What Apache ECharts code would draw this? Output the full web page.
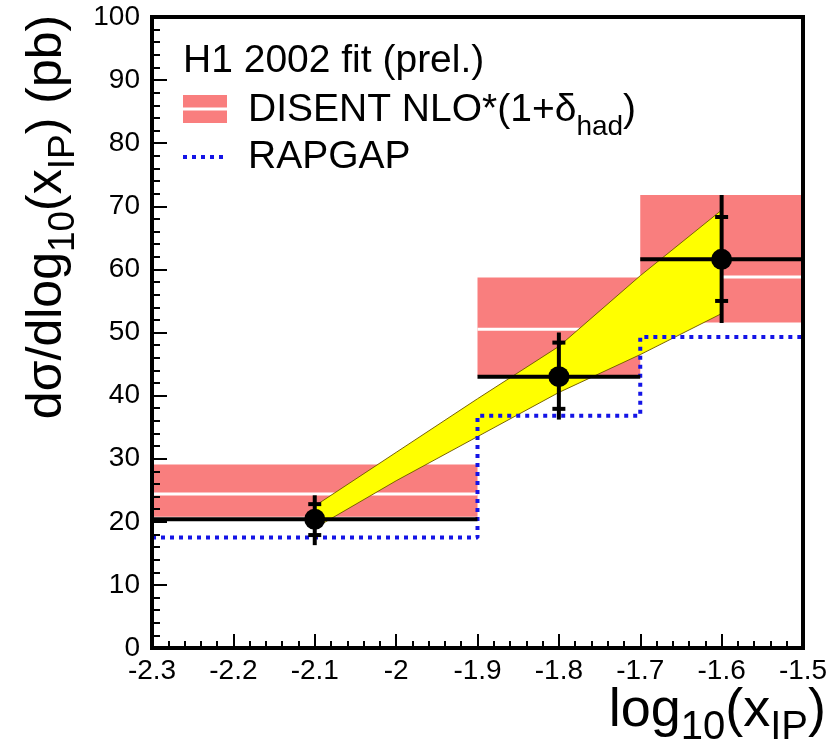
<!DOCTYPE html>
<html>
<head>
<meta charset="utf-8">
<script src="https://cdn.jsdelivr.net/npm/echarts/dist/echarts.min.js"></script>
<style>
  html, body { margin: 0; padding: 0; background: #fff; }
  #chart { width: 839px; height: 750px; }
</style>
</head>
<body>
<div id="chart"></div>
<script>
var FONT = '"Liberation Sans", Arial, Helvetica, sans-serif';
var PINK = '#f97e7e';
var BLUE = '#1414e6';

// bins in log10(x_IP)
var binLo = [-2.3, -1.9, -1.7];
var binHi = [-1.9, -1.7, -1.5];
var binCenter = [-2.1, -1.8, -1.6];

// H1 data (pb), inner = stat, outer = total error
var dataVal = [20.4, 43.0, 61.6];
var statLo = [17.9, 37.9, 55.0];
var statHi = [22.8, 48.4, 68.3];
var totLo = [16.3, 36.2, 51.5];
var totHi = [24.2, 50.0, 71.8];

// DISENT NLO*(1+delta_had) band
var disentLo = [20.8, 43.2, 51.6];
var disentHi = [29.1, 58.7, 71.8];
var disentMid = [24.4, 50.5, 58.8];

// RAPGAP
var rapgap = [17.5, 36.8, 49.3];

// H1 2002 fit band
var fitX = [-2.1, -2.0, -1.9, -1.8, -1.7, -1.6];
var fitUp = [22.5, 31.0, 39.5, 47.8, 59.0, 69.4];
var fitLo = [19.0, 26.5, 33.5, 40.5, 46.5, 53.0];

// axes
var xRange = [-2.3, -1.5];
var xStep = 0.1;
var yRange = [0, 100];
var yStep = 10;

var myChart = echarts.init(document.getElementById('chart'));

function renderDisent(params, api) {
  var a = api.coord([api.value(0), api.value(3)]);
  var b = api.coord([api.value(1), api.value(2)]);
  var m = api.coord([api.value(0), api.value(4)]);
  return {
    type: 'group',
    children: [
      { type: 'rect', shape: { x: a[0], y: a[1], width: b[0] - a[0], height: b[1] - a[1] }, style: { fill: PINK } },
      { type: 'line', shape: { x1: a[0], y1: m[1], x2: b[0], y2: m[1] }, style: { stroke: '#fff', lineWidth: 3 } }
    ]
  };
}

function renderFit(params, api) {
  if (params.dataIndex !== 0) return;
  var up = [], lo = [];
  for (var i = 0; i < fitX.length; i++) {
    up.push(api.coord([fitX[i], fitUp[i]]));
    lo.push(api.coord([fitX[i], fitLo[i]]));
  }
  var pts = up.concat(lo.slice().reverse());
  return {
    type: 'group',
    children: [
      { type: 'polygon', shape: { points: pts }, style: { fill: '#ffff00' } },
      { type: 'polyline', shape: { points: up }, style: { stroke: '#7a6400', lineWidth: 1, fill: null } },
      { type: 'polyline', shape: { points: lo }, style: { stroke: '#7a6400', lineWidth: 1, fill: null } }
    ]
  };
}

function renderPoint(params, api) {
  var c = api.coord([api.value(0), api.value(1)]);
  var l = api.coord([api.value(2), api.value(1)]);
  var r = api.coord([api.value(3), api.value(1)]);
  var s0 = api.coord([api.value(0), api.value(4)]);
  var s1 = api.coord([api.value(0), api.value(5)]);
  var t0 = api.coord([api.value(0), api.value(6)]);
  var t1 = api.coord([api.value(0), api.value(7)]);
  var st = { stroke: '#000', lineWidth: 4 };
  var cap = 6.5;
  return {
    type: 'group',
    children: [
      { type: 'line', shape: { x1: l[0], y1: c[1], x2: r[0], y2: c[1] }, style: st },
      { type: 'line', shape: { x1: c[0], y1: t0[1], x2: c[0], y2: t1[1] }, style: st },
      { type: 'line', shape: { x1: c[0] - cap, y1: s0[1], x2: c[0] + cap, y2: s0[1] }, style: st },
      { type: 'line', shape: { x1: c[0] - cap, y1: s1[1], x2: c[0] + cap, y2: s1[1] }, style: st },
      { type: 'circle', shape: { cx: c[0], cy: c[1], r: 10.5 }, style: { fill: '#000' } }
    ]
  };
}

var disentData = binLo.map(function (x, i) {
  return [binLo[i], binHi[i], disentLo[i], disentHi[i], disentMid[i]];
});
var pointData = binCenter.map(function (x, i) {
  return [binCenter[i], dataVal[i], binLo[i], binHi[i], statLo[i], statHi[i], totLo[i], totHi[i]];
});
var rapData = binLo.map(function (x, i) { return [x, rapgap[i]]; });
rapData.push([binHi[binHi.length - 1], rapgap[rapgap.length - 1]]);
var fitData = fitX.map(function (x, i) { return [x, fitLo[i], fitUp[i]]; });

var tickLabel = { color: '#000', fontSize: 28, fontFamily: FONT };

function subRich(main, sub, pad) {
  return {
    m: { fontSize: main, fontFamily: FONT, fill: '#000', color: '#000', verticalAlign: 'top' },
    s: { fontSize: sub, fontFamily: FONT, fill: '#000', color: '#000', verticalAlign: 'top', padding: [pad, 0, 0, 0] }
  };
}

var option = {
  animation: false,
  backgroundColor: '#fff',
  grid: {
    left: 152, right: 36, top: 17, bottom: 102,
    show: true, borderColor: '#000', borderWidth: 4, backgroundColor: 'transparent', z: 10
  },
  xAxis: {
    type: 'value',
    min: xRange[0], max: xRange[1], interval: xStep,
    z: 10,
    axisLine: { lineStyle: { color: '#000', width: 4 } },
    axisTick: { inside: true, length: 14, lineStyle: { color: '#000', width: 2 } },
    minorTick: { show: true, splitNumber: 5, length: 7, lineStyle: { color: '#000', width: 2 } },
    splitLine: { show: false },
    axisLabel: Object.assign({ margin: 9 }, tickLabel)
  },
  yAxis: {
    type: 'value',
    min: yRange[0], max: yRange[1], interval: yStep,
    z: 10,
    axisLine: { lineStyle: { color: '#000', width: 4 } },
    axisTick: { inside: true, length: 15, lineStyle: { color: '#000', width: 2 } },
    minorTick: { show: true, splitNumber: 5, length: 8, lineStyle: { color: '#000', width: 2 } },
    splitLine: { show: false },
    axisLabel: Object.assign({ margin: 12 }, tickLabel)
  },
  series: [
    { name: 'DISENT', type: 'custom', z: 1, renderItem: renderDisent, data: disentData, silent: true },
    { name: 'fit', type: 'custom', z: 2, renderItem: renderFit, data: fitData, silent: true },
    {
      name: 'RAPGAP', type: 'line', z: 3, step: 'end', data: rapData, symbol: 'none',
      lineStyle: { color: BLUE, width: 4, type: [4, 5], cap: 'butt' }, silent: true
    },
    { name: 'H1', type: 'custom', z: 4, renderItem: renderPoint, data: pointData, silent: true }
  ],
  graphic: [
    // legend
    {
      type: 'text', x: 183, y: 42,
      style: { text: 'H1 2002 fit (prel.)', font: '39px ' + FONT, fill: '#000', verticalAlign: 'top' }
    },
    { type: 'rect', shape: { x: 183, y: 95, width: 44, height: 28 }, style: { fill: PINK } },
    { type: 'rect', shape: { x: 183, y: 107.5, width: 44, height: 3 }, style: { fill: '#fff' } },
    {
      type: 'text', x: 248, y: 91,
      style: {
        text: '{m|DISENT NLO*(1+δ}{s|had}{m|)}',
        rich: subRich(39, 28, 22), verticalAlign: 'top', fill: '#000'
      }
    },
    {
      type: 'line', shape: { x1: 183, y1: 157, x2: 228, y2: 157 },
      style: { stroke: BLUE, lineWidth: 4, lineDash: [4, 5] }
    },
    {
      type: 'text', x: 248, y: 138,
      style: { text: 'RAPGAP', font: '39px ' + FONT, fill: '#000', verticalAlign: 'top' }
    },
    // axis titles
    {
      type: 'text', x: 826, y: 684,
      style: {
        text: '{m|log}{s|10}{m|(x}{s|IP}{m|)}',
        rich: subRich(54, 40, 24), align: 'right', verticalAlign: 'top', fill: '#000'
      }
    },
    {
      type: 'text', x: 22, y: 217, rotation: Math.PI / 2,
      style: {
        text: '{m|dσ/dlog}{s|10}{m|(x}{s|IP}{m|) (pb)}',
        rich: subRich(50, 37, 23), align: 'center', verticalAlign: 'top', fill: '#000'
      }
    }
  ]
};

myChart.setOption(option);
window.addEventListener('resize', function () { myChart.resize(); });
</script>
</body>
</html>
